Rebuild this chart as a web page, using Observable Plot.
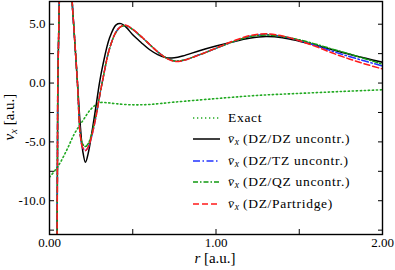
<!DOCTYPE html>
<html><head><meta charset="utf-8">
<script src="https://cdn.jsdelivr.net/npm/d3@7"></script>
<script src="https://cdn.jsdelivr.net/npm/@observablehq/plot@0.6"></script>
<style>
body{margin:0;background:#fff;}
#wrap{position:relative;width:395px;height:270px;font-family:"Liberation Serif","DejaVu Serif",serif;color:#000;}
#wrap svg text{font-family:"Liberation Serif","DejaVu Serif",serif;}
.ov{position:absolute;white-space:nowrap;line-height:1;font-family:"Liberation Serif","DejaVu Serif",serif;}
.leg{position:absolute;left:193px;height:14px;display:flex;align-items:center;font-size:13.5px;letter-spacing:0.7px;white-space:nowrap;font-family:"Liberation Serif","DejaVu Serif",serif;}
.leg svg{margin-right:7px;}
sub{font-size:70%;vertical-align:-0.25em;letter-spacing:0;}
</style></head><body><div id="wrap"></div><script>
// ---- data ----
const rExact = [0,0.05,0.1,0.15,0.2,0.25,0.3,0.35,0.4,0.5,0.6,0.75,1.0,1.25,1.5,1.75,2.0];
const vExact = [-8.0,-7.1,-5.8,-4.3,-3.2,-2.2,-1.68,-1.68,-1.76,-1.85,-1.82,-1.62,-1.32,-1.05,-0.88,-0.72,-0.57];

const r = [0.044,0.046,0.048,0.05,0.055,0.06,0.08,0.1,0.12,0.136,0.145,0.168,0.186,0.2,0.216,0.232,0.25,0.28,0.3,0.32,0.36,0.4,0.43,0.46,0.5,0.55,0.6,0.65,0.7,0.75,0.8,0.9,1.0,1.1,1.2,1.3,1.4,1.5,1.6,1.7,1.8,1.9,2.0];
const vDZ = [-20,-12,-6,0,4,7.5,15,18,14,7,5,0,-3.8,-5.8,-6.74,-6.0,-4.6,-1.9,0,1.5,3.8,4.95,5.05,4.75,4.1,3.45,2.85,2.42,2.15,2.15,2.3,2.75,3.15,3.5,3.8,3.95,3.85,3.56,3.22,2.83,2.45,2.1,1.77];
const vTZ = [-20,-12,-6,0,4,7.5,15,18,14,7,5,0,-4.6,-5.5,-5.74,-5.45,-4.7,-2.8,-1.2,0.3,2.9,4.35,4.8,4.88,4.55,3.95,3.3,2.65,2.15,1.87,1.92,2.4,2.95,3.5,3.95,4.12,3.95,3.62,3.18,2.7,2.26,1.85,1.45];
const vQZ = [-20,-12,-6,0,4,7.5,15,18,14,7,5,0,-4.5,-5.2,-5.4,-5.15,-4.5,-2.7,-1.15,0.3,2.9,4.33,4.8,4.87,4.55,3.95,3.3,2.65,2.15,1.88,1.93,2.4,2.95,3.5,3.93,4.08,3.95,3.68,3.3,2.88,2.48,2.05,1.6];
const vPart = [-20,-12,-6,0,4,7.5,15,18,14,7,5,0,-4.6,-5.5,-5.74,-5.45,-4.7,-2.8,-1.2,0.3,2.9,4.35,4.82,4.92,4.58,3.97,3.3,2.65,2.13,1.84,1.9,2.4,2.97,3.55,4.02,4.19,4.0,3.6,3.1,2.55,2.05,1.6,1.2];

const xMajor = [0,1,2];
const xAll = [0,0.5,1,1.5,2];
const yMajor = [-10,-5,0,5];
const yAll = [-12.5,-10,-7.5,-5,-2.5,0,2.5,5];

const labels = ["Exact","(DZ/DZ uncontr.)","(DZ/TZ uncontr.)","(DZ/QZ uncontr.)","(DZ/Partridge)"];
const colors = ["#22aa22","#000000","#2233ff","#119911","#ff1a1a"];
const dashes = ["1.3,2.7",null,"7,2.5,1.5,2.5","5,2,1.5,2","6,3"];

const exact = rExact.map((d,i)=>({r:d,v:vExact[i]}));
const mk = vals => r.map((d,i)=>({r:d,v:vals[i]}));
const series = [exact, mk(vDZ), mk(vTZ), mk(vQZ), mk(vPart)];

const lineMarks = series.map((data,i)=>Plot.line(data,{x:"r",y:"v",stroke:colors[i],strokeWidth:i===0?1.6:1.5,strokeDasharray:dashes[i]||undefined,curve:"catmull-rom",clip:true}));

const FF = "'Liberation Serif', 'DejaVu Serif', serif";
const chart = Plot.plot({
  width:395,height:270,
  marginLeft:49,marginRight:13,marginTop:1,marginBottom:36,
  style:{fontFamily:FF,fontSize:"13px",background:"white",color:"black",overflow:"visible"},
  x:{domain:[0,2]},
  y:{domain:[-12.87,6.93]},
  marks:[
    ...lineMarks,
    Plot.frame({stroke:"black",strokeWidth:1.4}),
    Plot.axisX({anchor:"bottom",ticks:xAll,tickSize:-5,tickFormat:()=>"",label:null}),
    Plot.axisX({anchor:"top",ticks:xAll,tickSize:-5,tickFormat:()=>"",label:null}),
    Plot.axisY({anchor:"left",ticks:yAll,tickSize:-5,tickFormat:()=>"",label:null}),
    Plot.axisY({anchor:"right",ticks:yAll,tickSize:-5,tickFormat:()=>"",label:null}),
    Plot.axisX({anchor:"bottom",ticks:xMajor,tickSize:0,tickPadding:3,tickFormat:d=>d.toFixed(2),label:null}),
    Plot.axisY({anchor:"left",ticks:yMajor,tickSize:0,tickPadding:4,tickFormat:d=>d.toFixed(1),label:null})
  ]
});
const wrap = document.getElementById("wrap");
wrap.appendChild(chart);

// axis titles
const xl = document.createElement("div");
xl.className="ov"; xl.style.fontSize="15px";
xl.innerHTML='<i>r</i> [a.u.]';
xl.style.left="215px"; xl.style.top="258px"; xl.style.transform="translate(-50%,-50%)";
wrap.appendChild(xl);
const yl = document.createElement("div");
yl.className="ov"; yl.style.fontSize="15px";
yl.innerHTML='<i>v</i><sub><i>x</i></sub> [a.u.]';
yl.style.left="11px"; yl.style.top="117px"; yl.style.transform="translate(-50%,-50%) rotate(-90deg)";
wrap.appendChild(yl);

// legend
const rowsY = [117.5,139.3,160.8,182.3,204];
labels.forEach((lab,i)=>{
  const row = document.createElement("div");
  row.className="leg";
  row.style.top=(rowsY[i]-7)+"px";
  const svgNS="http://www.w3.org/2000/svg";
  const s=document.createElementNS(svgNS,"svg");
  s.setAttribute("width","28"); s.setAttribute("height","10");
  const l=document.createElementNS(svgNS,"line");
  l.setAttribute("x1","0");l.setAttribute("x2","27");l.setAttribute("y1","5");l.setAttribute("y2","5");
  l.setAttribute("stroke",colors[i]);l.setAttribute("stroke-width",i===0?"1.6":"1.5");
  if(dashes[i]) l.setAttribute("stroke-dasharray",dashes[i]);
  s.appendChild(l); row.appendChild(s);
  const t=document.createElement("span");
  t.innerHTML = i===0 ? lab : '<i>v&#772;</i><sub><i>x</i></sub> '+lab;
  row.appendChild(t);
  wrap.appendChild(row);
});
</script></body></html>
